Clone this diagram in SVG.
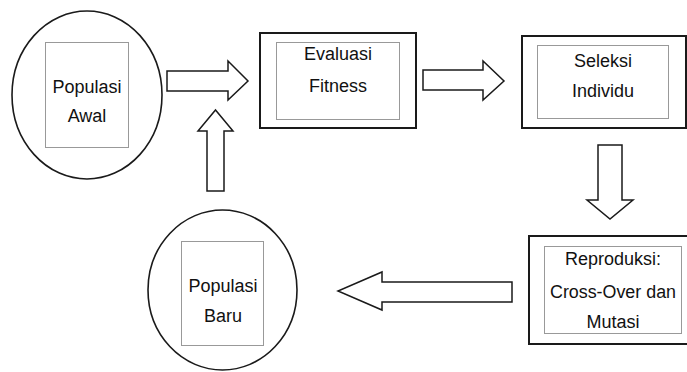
<svg xmlns="http://www.w3.org/2000/svg" width="687" height="372" viewBox="0 0 687 372">
<style>
.bg{fill:#fff}
.circ{fill:#fff;stroke:#1a1a1a;stroke-width:1.6}
.box{fill:#fff;stroke:#1a1a1a;stroke-width:2}
.inner{fill:none;stroke:#333;stroke-width:1;stroke-dasharray:1 1}
.arr{fill:#fff;stroke:#1a1a1a;stroke-width:1.5;stroke-linejoin:miter}
.t{font-family:"Liberation Sans",Arial,sans-serif;font-size:18px;fill:#111;text-anchor:middle}
</style>
<rect class="bg" x="0" y="0" width="687" height="372"/>
<g id="connectors">
<polygon class="arr" points="167,71 228,71 228,61 248,81 228,100 228,91 167,91"/>
<polygon class="arr" points="207,191 207,131 198,131 215.5,110 233,131 224,131 224,191"/>
<polygon class="arr" points="423,70 483,70 483,61 504,81 483,100 483,90 423,90"/>
<polygon class="arr" points="598,145 622,145 622,200 633,200 610,219 587,200 598,200"/>
<polygon class="arr" points="512,282 382,282 382,272 338,291 382,310 382,302 512,302"/>
</g>
<g id="populasi-awal">
<ellipse class="circ" cx="87" cy="95" rx="75" ry="84"/>
<rect class="inner" x="45.5" y="42.5" width="83" height="105"/>
<text class="t" x="87" y="93">Populasi</text>
<text class="t" x="87" y="122">Awal</text>
</g>
<g id="evaluasi-fitness">
<rect class="box" x="260" y="33" width="156" height="95"/>
<rect class="inner" x="276.5" y="42.5" width="123" height="77"/>
<text class="t" x="338" y="60">Evaluasi</text>
<text class="t" x="338" y="92">Fitness</text>
</g>
<g id="seleksi-individu">
<rect class="box" x="522" y="36" width="164" height="92"/>
<rect class="inner" x="537.5" y="45.5" width="131" height="73"/>
<text class="t" x="603" y="67">Seleksi</text>
<text class="t" x="603" y="97">Individu</text>
</g>
<g id="reproduksi">
<rect class="box" x="529" y="236" width="162" height="108"/>
<rect class="inner" x="544.5" y="246.5" width="137" height="87"/>
<text class="t" x="613" y="265">Reproduksi:</text>
<text class="t" x="613" y="298" textLength="126" lengthAdjust="spacingAndGlyphs">Cross-Over dan</text>
<text class="t" x="613" y="328">Mutasi</text>
</g>
<g id="populasi-baru">
<ellipse class="circ" cx="222.5" cy="290" rx="74.5" ry="80"/>
<rect class="inner" x="181.5" y="241.5" width="82" height="104"/>
<text class="t" x="223" y="292">Populasi</text>
<text class="t" x="223" y="322">Baru</text>
</g>
</svg>
